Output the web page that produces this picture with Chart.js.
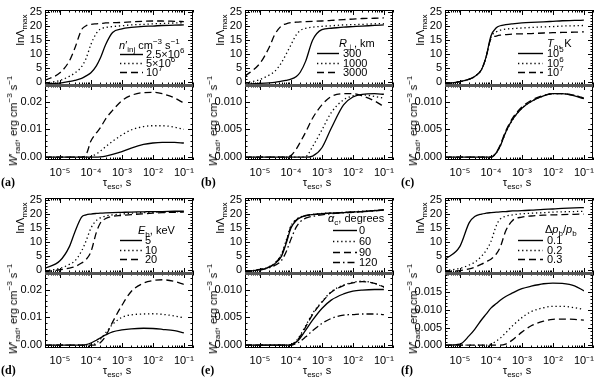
<!DOCTYPE html>
<html><head><meta charset="utf-8">
<script src="https://cdn.jsdelivr.net/npm/chart.js@4.4.1/dist/chart.umd.min.js"></script>
<style>
html,body{margin:0;padding:0;background:#fff;}
#wrap{position:relative;width:600px;height:377px;overflow:hidden;font-family:"Liberation Sans",Arial,sans-serif;color:#000;}
canvas{position:absolute;}
.t{position:absolute;font-size:11px;line-height:12px;white-space:nowrap;}
.t sub,.t sup{font-size:8px;line-height:0;}
.lab{font-family:"Liberation Serif","DejaVu Serif",serif;font-weight:bold;font-size:12px;}
</style></head>
<body><div id="wrap"></div>
<script>
// ---------- data ----------
const tau = [3.3e-6,1e-5,2e-5,3e-5,5e-5,7e-5,1e-4,1.5e-4,2e-4,3e-4,5e-4,1e-3,2e-3,5e-3,1e-2,2e-2,5e-2,1e-1];

// (a) n'_inj
const lnA_a1 = [-0.7,-0.4,0.2,0.6,1.3,2.2,3.3,5.8,8.5,13.5,17.8,19.1,19.6,20.0,20.1,20.3,20.4,20.5];
const lnA_a2 = [-0.4,0.6,2.0,3.2,5.5,8.5,13.5,17.5,19.0,19.6,19.9,20.2,20.5,20.7,20.9,21.0,21.2,21.3];
const lnA_a3 = [0.6,3.3,7.5,12.0,18.8,20.2,20.7,20.9,21.0,21.2,21.3,21.4,21.6,21.8,21.9,21.9,21.8,21.7];
const W_a1 = [0,0,0,0,0,0,0,0,0.0001,0.0004,0.001,0.002,0.0033,0.0046,0.0051,0.0053,0.0053,0.0051];
const W_a2 = [0,0,0,0,0,0,0.0002,0.0012,0.0022,0.0038,0.0057,0.0080,0.0098,0.0110,0.0113,0.0113,0.0108,0.0100];
const W_a3 = [0,0,0,0,0,0.0009,0.0058,0.0087,0.0105,0.0138,0.0168,0.0203,0.0222,0.0232,0.0233,0.0228,0.0213,0.0194];

// (b) R_perp
const lnA_b1 = [-0.7,-0.5,-0.3,-0.1,0.3,0.6,1.0,2.0,3.5,7.5,15.0,18.8,19.3,19.7,19.9,20.1,20.3,20.5];
const lnA_b2 = [-0.3,0.9,2.5,3.8,7.0,10.0,13.3,17.0,18.5,19.3,19.7,20.0,20.2,20.5,20.6,20.7,20.9,21.0];
const lnA_b3 = [2.1,6.7,12.5,17.0,20.2,20.9,21.3,21.5,21.6,21.7,21.8,21.9,22.1,22.4,22.6,22.8,22.9,23.0];
const W_b1 = [0,0,0,0,0,0,0,0,0,0,0.0002,0.0017,0.0052,0.0094,0.0108,0.0113,0.0114,0.0113];
const W_b2 = [0,0,0,0,0,0,0,0,0,0.0001,0.0019,0.0049,0.0080,0.0103,0.0110,0.0112,0.0109,0.0106];
const W_b3 = [0,0,0,0,0,0,0.0003,0.0015,0.0027,0.0045,0.0070,0.0094,0.0109,0.0114,0.0114,0.0110,0.0101,0.0091];

// (c) T_0
const lnA_c1 = [-0.6,0.1,1.0,2.0,4.5,9.0,16.5,19.5,20.2,20.6,20.9,21.2,21.4,21.6,21.8,22.0,22.1,22.2];
const lnA_c2 = [-0.6,0.1,1.0,2.0,4.5,9.0,16.0,18.0,18.6,19.0,19.2,19.4,19.6,19.8,19.9,20.1,20.2,20.3];
const lnA_c3 = [-0.6,0.1,1.0,2.0,4.5,9.0,15.5,16.5,16.8,17.0,17.2,17.3,17.4,17.6,17.7,17.8,17.9,18.0];
const W_c1 = [0,0,0,0,0,0,0,0.0008,0.0020,0.0045,0.0068,0.0088,0.0100,0.0110,0.0114,0.0114,0.0110,0.0105];
const W_c2 = [0,0,0,0,0,0,0,0.0008,0.0020,0.0044,0.0067,0.0088,0.0100,0.0110,0.0114,0.0114,0.0111,0.0106];
const W_c3 = [0,0,0,0,0,0,0,0.0009,0.0022,0.0047,0.0070,0.0090,0.0102,0.0111,0.0114,0.0114,0.0111,0.0106];

// (d) E_b
const lnA_d1 = [0.6,3.3,8.3,13.5,19.0,19.8,20.1,20.3,20.4,20.5,20.6,20.7,20.8,20.9,21.0,21.0,21.1,21.1];
const lnA_d2 = [-0.3,0.6,2.0,3.2,6.8,10.5,15.0,17.8,18.7,19.4,19.8,20.1,20.4,20.6,20.7,20.8,20.9,21.0];
const lnA_d3 = [-0.6,0.1,0.7,1.2,2.5,3.8,6.5,13.5,16.8,18.5,19.3,19.6,19.9,20.2,20.4,20.6,20.7,20.8];
const W_d1 = [0,0,0,0,0,0.0002,0.0008,0.0018,0.0026,0.0037,0.0048,0.0055,0.0059,0.0061,0.0060,0.0057,0.0052,0.0044];
const W_d2 = [0,0,0,0,0,0,0,0.0008,0.0021,0.0045,0.0075,0.0100,0.0109,0.0112,0.0113,0.0111,0.0105,0.0098];
const W_d3 = [0,0,0,0,0,0,0,0.0002,0.0009,0.0033,0.0083,0.0143,0.0193,0.0223,0.0232,0.0235,0.0229,0.0218];

// (e) alpha_c
const lnA_e1 = [-0.6,0.1,1.0,2.2,5.0,9.5,15.0,17.8,18.8,19.5,19.9,20.2,20.4,20.6,20.8,21.0,21.3,21.6];
const lnA_e2 = [-0.5,0.2,1.2,2.5,5.8,10.5,15.8,18.2,19.0,19.6,20.0,20.3,20.5,20.7,20.9,21.1,21.4,21.6];
const lnA_e3 = [-0.5,0.2,1.1,2.4,5.5,10.0,15.5,18.0,18.9,19.5,19.9,20.2,20.4,20.6,20.8,21.0,21.3,21.6];
const lnA_e4 = [-0.6,0.0,0.8,1.6,3.5,6.5,11.0,15.5,17.3,18.6,19.3,19.8,20.2,20.5,20.7,20.9,21.2,21.5];
const W_e1 = [0,0,0,0,0,0,0,0.0006,0.0013,0.0027,0.0045,0.0066,0.0081,0.0092,0.0097,0.0099,0.0100,0.0100];
const W_e2 = [0,0,0,0,0,0,0.0001,0.0008,0.0018,0.0035,0.0057,0.0078,0.0096,0.0108,0.0113,0.0115,0.0111,0.0104];
const W_e3 = [0,0,0,0,0,0,0.0001,0.0007,0.0016,0.0033,0.0055,0.0077,0.0095,0.0107,0.0112,0.0114,0.0111,0.0105];
const W_e4 = [0,0,0,0,0,0,0,0.0003,0.0007,0.0015,0.0026,0.0039,0.0048,0.0054,0.0055,0.0056,0.0056,0.0055];

// (f) dp_b/p_b
const lnA_f1 = [3.8,8.5,17.0,19.2,20.1,20.4,20.6,20.8,20.9,21.0,21.2,21.3,21.5,21.8,21.9,22.1,22.3,22.4];
const lnA_f2 = [-0.2,0.6,1.8,2.8,5.0,7.0,10.2,16.0,18.3,19.3,19.8,20.2,20.4,20.6,20.8,20.9,21.0,21.1];
const lnA_f3 = [-0.6,-0.2,0.4,1.0,2.1,3.0,3.9,5.8,8.2,14.0,17.8,19.0,19.4,19.7,19.8,19.9,20.0,20.1];
const W_f1 = [0,0.0003,0.0027,0.0045,0.0072,0.0088,0.0105,0.0118,0.0127,0.0138,0.0148,0.0160,0.0167,0.0174,0.0176,0.0175,0.0168,0.0154];
const W_f2 = [0,0,0,0,0,0,0.0003,0.0012,0.0020,0.0035,0.0055,0.0078,0.0095,0.0106,0.0110,0.0110,0.0106,0.0101];
const W_f3 = [0,0,0,0,0,0,0,0,0,0.0003,0.0015,0.0037,0.0055,0.0068,0.0073,0.0074,0.0073,0.0071];

// ---------- ticks & labels ----------
const xTickVals = [1e-5,1e-4,1e-3,1e-2,1e-1];
const xTickLabels = ['10⁻⁵','10⁻⁴','10⁻³','10⁻²','10⁻¹'];
const lnTicks = [0,5,10,15,20,25];
const lnTickLabels = ['0','5','10','15','20','25'];
const wTicks2 = [0,0.01,0.02];
const wTickLabels2 = ['0.00','0.01','0.02'];
const wTicks1 = [0,0.005,0.010];
const wTickLabels1 = ['0.000','0.005','0.010'];
const wTicksF = [0,0.005,0.010,0.015];
const wTickLabelsF = ['0.000','0.005','0.010','0.015'];

const legTitleA = '<i>n</i>′<sub>inj</sub> cm<sup>−3</sup> s<sup>−1</sup>';
const legLabelsA = ['2.5×10<sup>6</sup>','5×10<sup>6</sup>','10<sup>7</sup>'];
const legTitleB = '<i>R</i><sub>⊥</sub>, km';
const legLabelsB = ['300','1000','3000'];
const legTitleC = '<i>T</i><sub>0</sub>, K';
const legLabelsC = ['10<sup>5</sup>','10<sup>6</sup>','10<sup>7</sup>'];
const legTitleD = '<i>E</i><sub>b</sub>, keV';
const legLabelsD = ['5','10','20'];
const legTitleE = '<i>α</i><sub>c</sub>, degrees';
const legLabelsE = ['0','60','90','120'];
const legTitleF = 'Δ<i>p</i><sub>b</sub>/<i>p</i><sub>b</sub>';
const legLabelsF = ['0.1','0.2','0.3'];

const yTitleTop = 'lnΛ<sub>max</sub>';
const yTitleBot = '<i>W</i>′<sub>rad</sub>, erg cm<sup>−3</sup> s<sup>−1</sup>';
const xTitle = 'τ<sub>esc</sub>, s';

// ---------- layout / styles ----------
const STY = {solid:[], dot:[1.3,2.8], dash:[7,4], dashdot:[7,3,1.5,3]};
const S3 = ['solid','dot','dash'];
const S4 = ['solid','dot','dash','dashdot'];
const X_MIN = 3.3e-6, X_MAX = 0.2;

const panels = [
 {ox:0,oy:0,letter:'(a)',top:[lnA_a1,lnA_a2,lnA_a3],bot:[W_a1,W_a2,W_a3],sty:S3,wMin:-0.001,wMax:0.026,wT:wTicks2,wL:wTickLabels2,wMinor:0.002,
  legT:legTitleA,legL:legLabelsA,leg:{tx:119,ty:45,x0:120,x1:143,ys:[54,63,72],lx:146}},
 {ox:200,oy:0,letter:'(b)',top:[lnA_b1,lnA_b2,lnA_b3],bot:[W_b1,W_b2,W_b3],sty:S3,wMin:-0.0005,wMax:0.013,wT:wTicks1,wL:wTickLabels1,wMinor:0.001,
  legT:legTitleB,legL:legLabelsB,leg:{tx:139,ty:43,x0:117,x1:139,ys:[53,63,72],lx:143}},
 {ox:400,oy:0,letter:'(c)',top:[lnA_c1,lnA_c2,lnA_c3],bot:[W_c1,W_c2,W_c3],sty:S3,wMin:-0.0005,wMax:0.013,wT:wTicks1,wL:wTickLabels1,wMinor:0.001,
  legT:legTitleC,legL:legLabelsC,leg:{tx:147,ty:43,x0:118,x1:143,ys:[53,63,72],lx:147}},
 {ox:0,oy:188,letter:'(d)',top:[lnA_d1,lnA_d2,lnA_d3],bot:[W_d1,W_d2,W_d3],sty:S3,wMin:-0.001,wMax:0.026,wT:wTicks2,wL:wTickLabels2,wMinor:0.002,
  legT:legTitleD,legL:legLabelsD,leg:{tx:138,ty:42,x0:120,x1:142,ys:[52,62,71],lx:145}},
 {ox:200,oy:188,letter:'(e)',top:[lnA_e1,lnA_e2,lnA_e3,lnA_e4],bot:[W_e1,W_e2,W_e3,W_e4],sty:S4,wMin:-0.0005,wMax:0.013,wT:wTicks1,wL:wTickLabels1,wMinor:0.001,
  legT:legTitleE,legL:legLabelsE,leg:{tx:128,ty:30,x0:133,x1:157,ys:[42,53,64,74],lx:159}},
 {ox:400,oy:188,letter:'(f)',top:[lnA_f1,lnA_f2,lnA_f3],bot:[W_f1,W_f2,W_f3],sty:S3,wMin:-0.0008,wMax:0.0205,wT:wTicksF,wL:wTickLabelsF,wMinor:0.001,
  legT:legTitleF,legL:legLabelsF,leg:{tx:145,ty:41,x0:118,x1:143,ys:[52,62,71],lx:147}}
];

const wrap = document.getElementById('wrap');
function addText(html, x, y, opt) {
  const d = document.createElement('div');
  d.className = 't' + (opt && opt.cls ? ' ' + opt.cls : '');
  d.innerHTML = html;
  d.style.left = x + 'px'; d.style.top = y + 'px';
  let tr = 'translateY(-50%)';
  if (opt && opt.center) tr = 'translate(-50%,-50%)';
  if (opt && opt.rot) tr = 'translate(-50%,-50%) rotate(-90deg)';
  d.style.transform = tr;
  wrap.appendChild(d);
}

const TICKFONT = {family:'"Liberation Sans", Arial, sans-serif', size:11};

function ds(arr, yID, st) {
  return {data: tau.map((t,i)=>({x:t, y:arr[i]})), xAxisID:'x', yAxisID:yID,
    borderColor:'#000', borderWidth:1.3, borderDash:STY[st], pointRadius:0,
    fill:false, cubicInterpolationMode:'monotone'};
}

function framePlugin(p) {
  return {id:'frame', afterDatasetsDraw(chart) {
    const ctx = chart.ctx, xs = chart.scales.x;
    const L = Math.round(xs.left), R = Math.round(xs.right);
    ctx.save();
    ctx.strokeStyle = '#000'; ctx.lineWidth = 1; ctx.setLineDash([]);
    ['yTop','yBot'].forEach(id => {
      const ys = chart.scales[id];
      const T = Math.round(ys.top), B = Math.round(ys.bottom);
      ctx.strokeRect(L + 0.5, T + 0.5, R - L - 1, B - T - 1);
      ctx.beginPath();
      for (let d = -6; d <= 0; d++) for (let k = 1; k <= 9; k++) {
        const v = k * Math.pow(10, d);
        if (v < X_MIN || v > X_MAX) continue;
        const px = Math.round(xs.getPixelForValue(v)) + 0.5;
        const len = k === 1 ? 5 : 2.5;
        ctx.moveTo(px, B); ctx.lineTo(px, B - len);
        ctx.moveTo(px, T); ctx.lineTo(px, T + len);
      }
      const minor = id === 'yTop' ? 1 : p.wMinor;
      const majors = id === 'yTop' ? lnTicks : p.wT;
      const start = Math.ceil(ys.min / minor - 1e-9) * minor;
      for (let i = 0; i < 200; i++) {
        const v = start + i * minor;
        if (v > ys.max + 1e-12) break;
        const isMaj = majors.some(m => Math.abs(m - v) < minor * 1e-3);
        const py = Math.round(ys.getPixelForValue(v)) + 0.5;
        const len = isMaj ? 5 : 2.5;
        ctx.moveTo(L, py); ctx.lineTo(L + len, py);
        ctx.moveTo(R, py); ctx.lineTo(R - len, py);
      }
      ctx.stroke();
    });
    // thicker separator between the two stacked plots
    const sep = Math.round(chart.scales.yTop.bottom);
    ctx.fillStyle = '#555';
    ctx.fillRect(L, sep - 1, R - L, 3);
    // legend line samples
    ctx.lineWidth = 1.4;
    p.sty.forEach((st, i) => {
      ctx.setLineDash(STY[st]);
      ctx.beginPath();
      const y = p.leg.ys[i] + 0.5;
      ctx.moveTo(p.leg.x0, y); ctx.lineTo(p.leg.x1, y);
      ctx.stroke();
    });
    ctx.restore();
  }};
}

panels.forEach(p => {
  const cv = document.createElement('canvas');
  cv.width = 200; cv.height = 188;
  cv.style.left = p.ox + 'px'; cv.style.top = p.oy + 'px';
  wrap.appendChild(cv);
  const datasets = [];
  p.top.forEach((a, i) => datasets.push(ds(a, 'yTop', p.sty[i])));
  p.bot.forEach((a, i) => datasets.push(ds(a, 'yBot', p.sty[i])));
  new Chart(cv, {
    type: 'line',
    data: {datasets},
    plugins: [framePlugin(p)],
    options: {
      responsive: false, animation: false, devicePixelRatio: 1,
      layout: {padding: {left: 0, right: 3, top: 3, bottom: 0}},
      plugins: {legend: {display: false}, tooltip: {enabled: false}},
      scales: {
        x: {type: 'logarithmic', position: 'bottom', min: X_MIN, max: X_MAX,
            grid: {display: false, drawTicks: false}, border: {display: false},
            afterBuildTicks: s => { s.ticks = xTickVals.map(v => ({value: v})); },
            afterFit: s => { s.height = 28; },
            ticks: {autoSkip: false, maxRotation: 0, padding: 6, color: '#000', font: TICKFONT,
                    callback: (v, i) => xTickLabels[i]}},
        yTop: {type: 'linear', position: 'left', stack: 'p', stackWeight: 1, weight: 1,
            min: -1, max: 26,
            grid: {display: false, drawTicks: false}, border: {display: false},
            afterBuildTicks: s => { s.ticks = lnTicks.map(v => ({value: v})); },
            afterFit: s => { s.width = 45; },
            ticks: {autoSkip: false, padding: 3, color: '#000', font: TICKFONT,
                    callback: (v, i) => lnTickLabels[i]}},
        yBot: {type: 'linear', position: 'left', stack: 'p', stackWeight: 1, weight: 0,
            min: p.wMin, max: p.wMax,
            grid: {display: false, drawTicks: false}, border: {display: false},
            afterBuildTicks: s => { s.ticks = p.wT.map(v => ({value: v})); },
            afterFit: s => { s.width = 45; },
            ticks: {autoSkip: false, padding: 3, color: '#000', font: TICKFONT,
                    callback: (v, i) => p.wL[i]}}
      }
    }
  });
  // texts
  const L = p.leg;
  addText(p.legT, p.ox + L.tx, p.oy + L.ty);
  p.legL.forEach((s, i) => addText(s, p.ox + L.lx, p.oy + L.ys[i]));
  addText(yTitleTop, p.ox + 20, p.oy + 30, {rot: true});
  addText(yTitleBot, p.ox + 13, p.oy + 121, {rot: true});
  addText(xTitle, p.ox + 117, p.oy + 182, {center: true});
  addText(p.letter, p.ox + 1, p.oy + 182, {cls: 'lab'});
});
</script>
</body></html>
